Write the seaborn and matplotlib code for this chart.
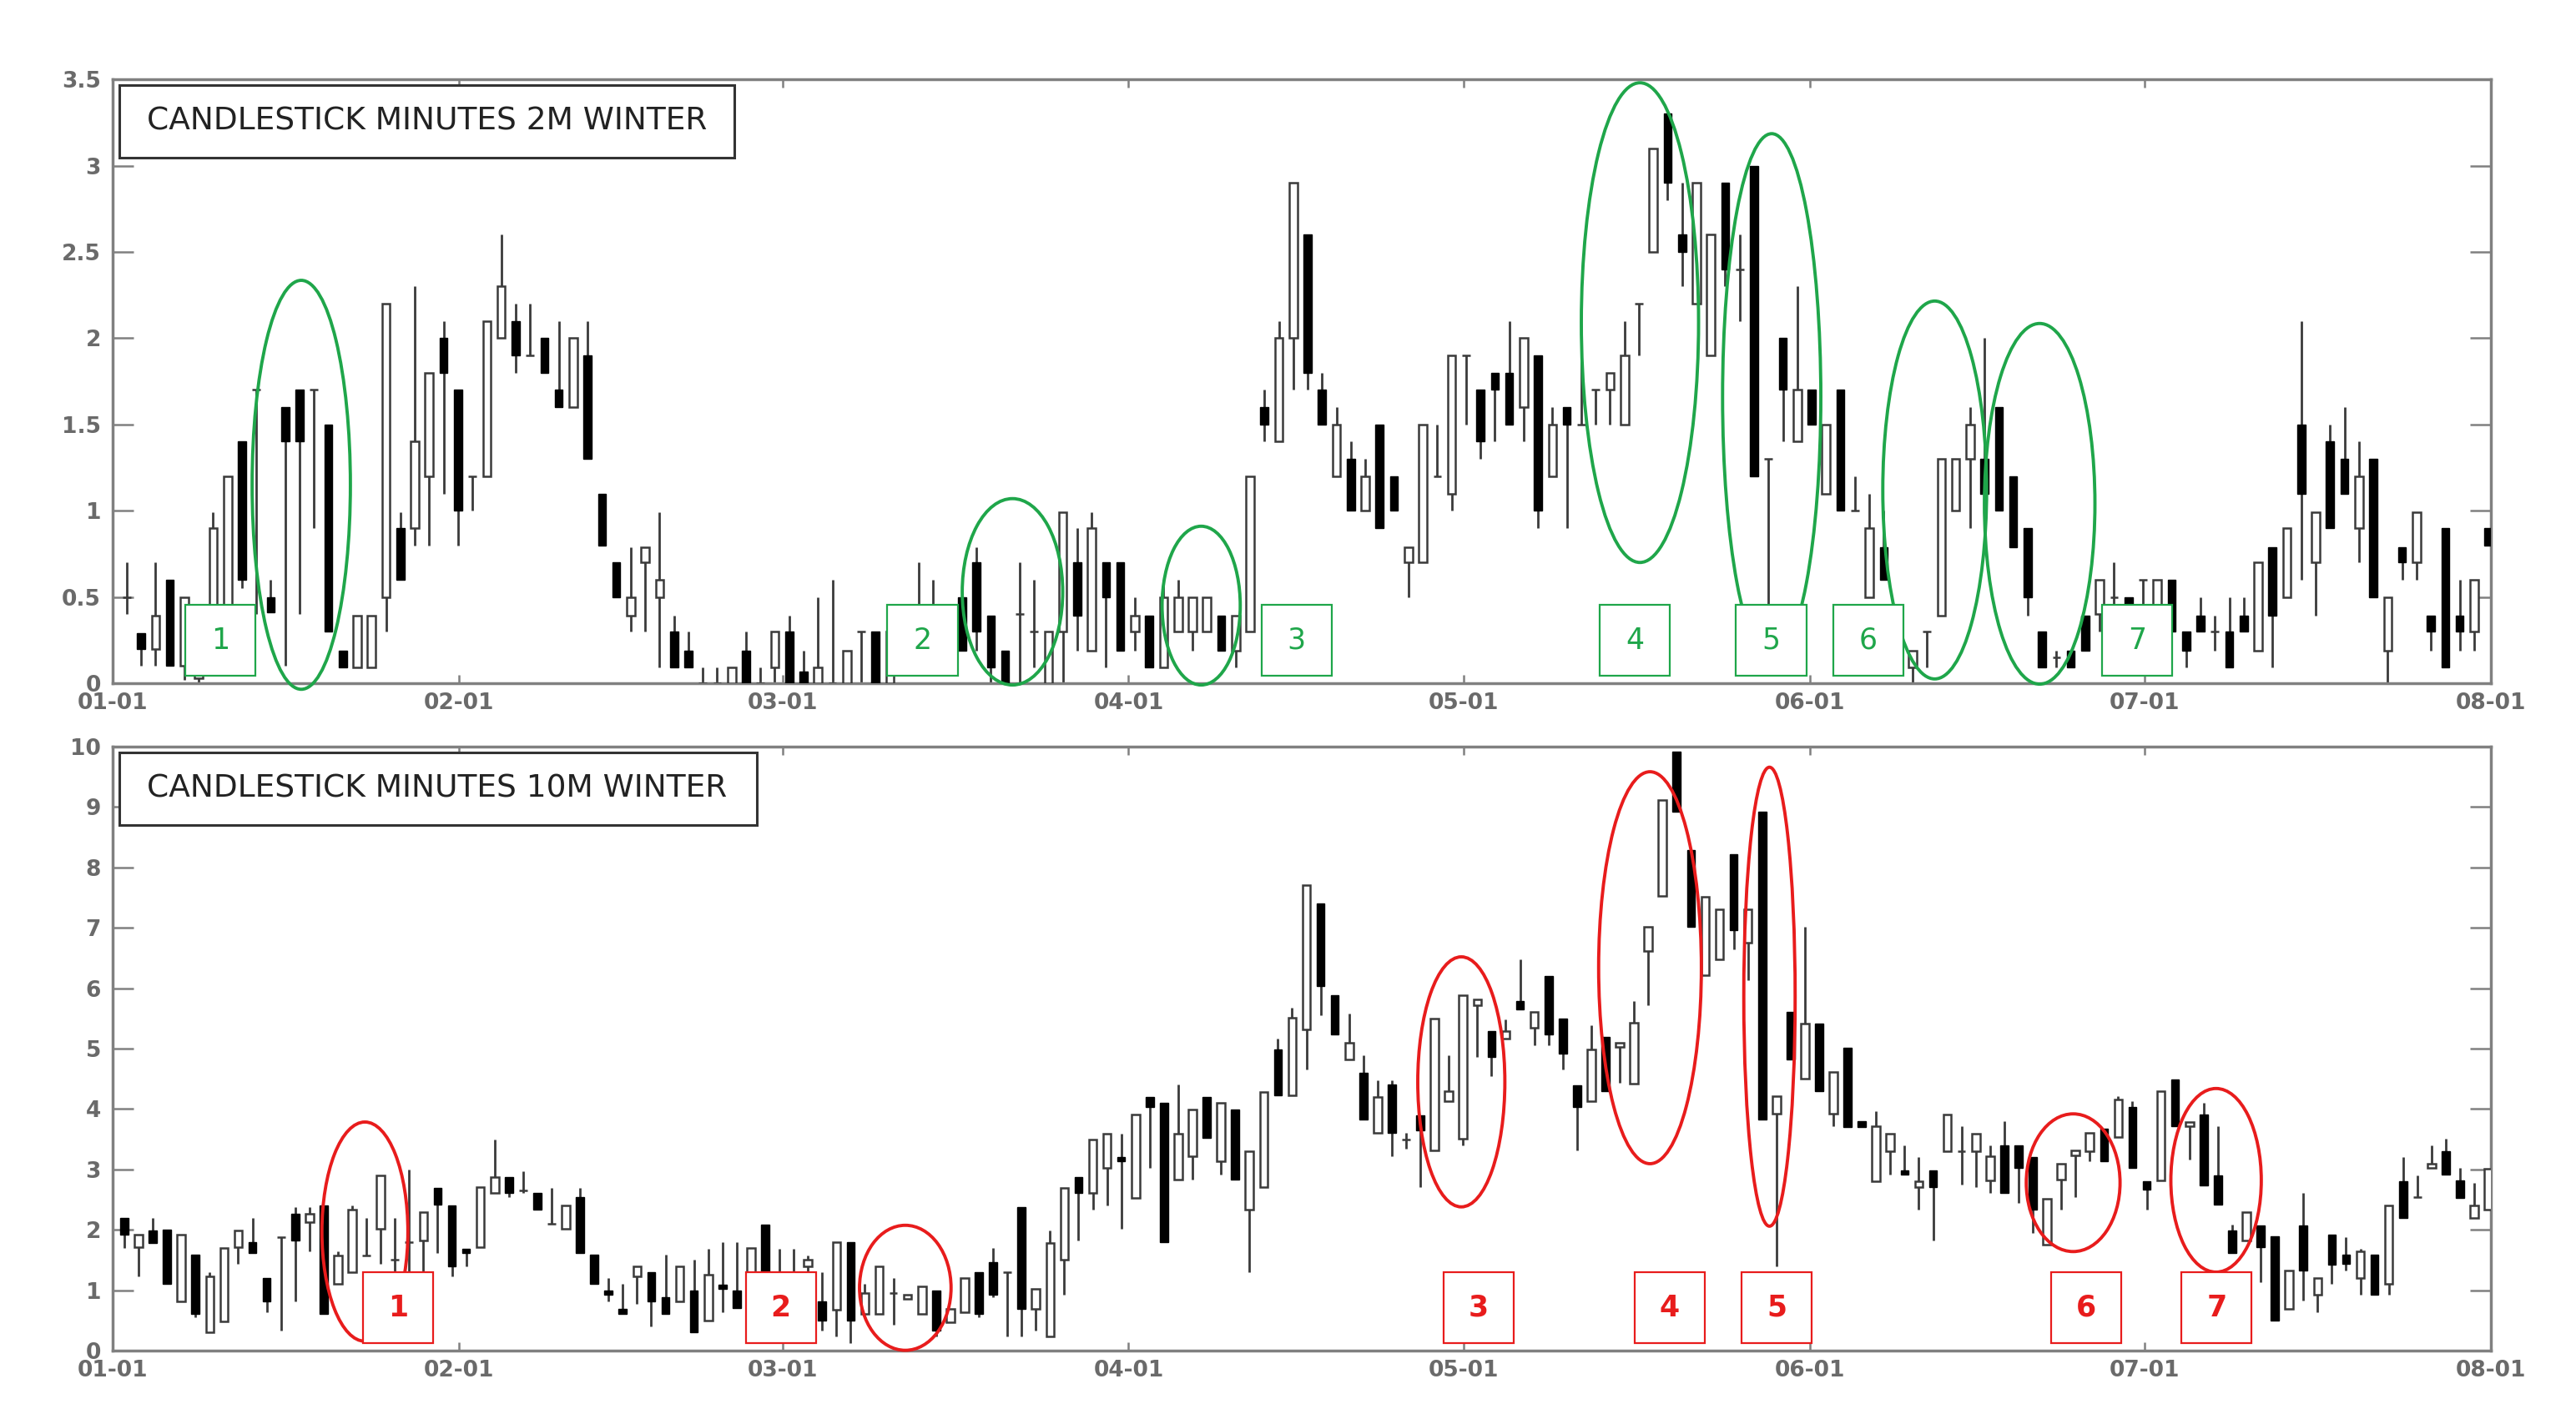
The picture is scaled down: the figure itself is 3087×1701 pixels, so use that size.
import numpy as np
import matplotlib
matplotlib.use('Agg')
import matplotlib.pyplot as plt
import seaborn as sns
from matplotlib.patches import Ellipse, Rectangle
from matplotlib.ticker import FuncFormatter

# --- data ----------------------------------------------------------------
month_ticks = [0, 31, 60, 91, 121, 152, 182, 213]
month_labels = ['01-01', '02-01', '03-01', '04-01', '05-01', '06-01', '07-01', '08-01']

# 2M winter candles (open / high / low / close)
top_open = [0.50, 0.29, 0.20, 0.60, 0.10, 0.03, 0.10, 0.10, 1.40, 1.70, 0.50, 1.60, 1.70, 1.70, 1.50, 0.19, 0.09, 0.09, 0.50, 0.90,
            0.90, 1.20, 2.00, 1.70, 1.20, 1.20, 2.00, 2.10, 1.90, 2.00, 1.70, 1.60, 1.90, 1.10, 0.70, 0.39, 0.70, 0.50, 0.30, 0.19,
            0.00, 0.00, 0.00, 0.19, 0.00, 0.09, 0.30, 0.07, 0.00, 0.00, 0.00, 0.30, 0.30, 0.00, 0.20, 0.30, 0.35, 0.09, 0.50, 0.70,
            0.39, 0.19, 0.40, 0.30, 0.00, 0.30, 0.70, 0.19, 0.70, 0.70, 0.30, 0.39, 0.09, 0.30, 0.30, 0.30, 0.39, 0.19, 0.30, 1.60,
            1.40, 2.00, 2.60, 1.70, 1.20, 1.30, 1.00, 1.50, 1.20, 0.70, 0.70, 1.20, 1.10, 1.90, 1.70, 1.80, 1.80, 1.60, 1.90, 1.20,
            1.60, 1.50, 1.70, 1.70, 1.50, 2.20, 2.50, 3.30, 2.60, 2.20, 1.90, 2.90, 2.40, 3.00, 1.30, 2.00, 1.40, 1.70, 1.10, 1.70,
            1.00, 0.50, 0.79, 0.30, 0.09, 0.30, 0.39, 1.00, 1.30, 1.30, 1.60, 1.20, 0.90, 0.30, 0.15, 0.19, 0.39, 0.40, 0.50, 0.50,
            0.60, 0.45, 0.60, 0.30, 0.39, 0.30, 0.30, 0.39, 0.19, 0.79, 0.50, 1.50, 0.70, 1.40, 1.30, 0.90, 1.30, 0.19, 0.79, 0.70,
            0.39, 0.90, 0.39, 0.30, 0.90]
top_high = [0.70, 0.29, 0.70, 0.60, 0.50, 0.08, 0.99, 1.20, 1.40, 1.70, 0.60, 1.60, 1.70, 1.70, 1.50, 0.19, 0.39, 0.39, 2.20, 0.99,
            2.30, 1.80, 2.10, 1.70, 1.20, 2.10, 2.60, 2.20, 2.20, 2.00, 2.10, 2.00, 2.10, 1.10, 0.70, 0.79, 0.79, 0.99, 0.39, 0.30,
            0.09, 0.09, 0.09, 0.30, 0.09, 0.30, 0.39, 0.19, 0.50, 0.60, 0.19, 0.30, 0.30, 0.30, 0.30, 0.70, 0.60, 0.39, 0.50, 0.79,
            0.39, 0.19, 0.70, 0.60, 0.30, 0.99, 0.90, 0.99, 0.70, 0.70, 0.50, 0.39, 0.60, 0.60, 0.50, 0.50, 0.39, 0.39, 1.20, 1.70,
            2.10, 2.90, 2.60, 1.80, 1.60, 1.40, 1.30, 1.50, 1.20, 0.79, 1.50, 1.50, 1.90, 1.90, 1.70, 1.80, 2.10, 2.00, 1.90, 1.60,
            1.60, 1.90, 1.70, 1.80, 2.10, 2.20, 3.10, 3.30, 2.90, 2.90, 2.60, 2.90, 2.60, 3.00, 1.30, 2.00, 2.30, 1.70, 1.50, 1.70,
            1.20, 1.10, 1.00, 0.39, 0.19, 0.30, 1.30, 1.30, 1.60, 2.00, 1.60, 1.20, 0.90, 0.30, 0.19, 0.19, 0.39, 0.60, 0.70, 0.50,
            0.60, 0.60, 0.60, 0.30, 0.50, 0.39, 0.50, 0.50, 0.70, 0.79, 0.90, 2.10, 0.99, 1.50, 1.60, 1.40, 1.30, 0.50, 0.79, 0.99,
            0.39, 0.90, 0.60, 0.60, 0.90]
top_low = [0.40, 0.10, 0.10, 0.10, 0.02, 0.00, 0.05, 0.05, 0.55, 0.40, 0.41, 0.10, 0.40, 0.90, 0.30, 0.09, 0.09, 0.09, 0.30, 0.60,
           0.80, 0.80, 1.10, 0.80, 1.00, 1.20, 2.00, 1.80, 1.90, 1.80, 1.60, 1.60, 1.30, 0.80, 0.50, 0.30, 0.30, 0.09, 0.09, 0.09,
           0.00, 0.00, 0.00, 0.00, 0.00, 0.00, 0.00, 0.00, 0.00, 0.00, 0.00, 0.00, 0.00, 0.00, 0.10, 0.10, 0.10, 0.09, 0.19, 0.19,
           0.00, 0.00, 0.00, 0.09, 0.00, 0.00, 0.19, 0.19, 0.09, 0.19, 0.19, 0.09, 0.09, 0.30, 0.19, 0.30, 0.19, 0.09, 0.30, 1.40,
           1.40, 1.70, 1.70, 1.50, 1.20, 1.00, 1.00, 0.90, 1.00, 0.50, 0.70, 1.20, 1.00, 1.50, 1.30, 1.40, 1.50, 1.40, 0.90, 1.20,
           0.90, 1.50, 1.50, 1.50, 1.50, 1.90, 2.50, 2.80, 2.30, 2.20, 1.90, 2.30, 2.10, 1.20, 0.40, 1.40, 1.40, 1.50, 1.10, 1.00,
           1.00, 0.50, 0.60, 0.19, 0.00, 0.09, 0.39, 1.00, 0.90, 1.00, 1.00, 0.79, 0.39, 0.09, 0.09, 0.09, 0.19, 0.30, 0.39, 0.45,
           0.40, 0.45, 0.30, 0.09, 0.30, 0.19, 0.09, 0.30, 0.19, 0.09, 0.50, 0.60, 0.39, 0.90, 1.10, 0.70, 0.50, 0.00, 0.60, 0.60,
           0.19, 0.09, 0.19, 0.19, 0.80]
top_close = [0.50, 0.20, 0.39, 0.10, 0.50, 0.06, 0.90, 1.20, 0.60, 1.70, 0.41, 1.40, 1.40, 1.70, 0.30, 0.09, 0.39, 0.39, 2.20, 0.60,
             1.40, 1.80, 1.80, 1.00, 1.20, 2.10, 2.30, 1.90, 1.90, 1.80, 1.60, 2.00, 1.30, 0.80, 0.50, 0.50, 0.79, 0.60, 0.09, 0.09,
             0.00, 0.00, 0.09, 0.00, 0.00, 0.30, 0.00, 0.00, 0.09, 0.00, 0.19, 0.30, 0.00, 0.30, 0.25, 0.35, 0.30, 0.39, 0.19, 0.30,
             0.09, 0.00, 0.40, 0.30, 0.30, 0.99, 0.39, 0.90, 0.50, 0.19, 0.39, 0.09, 0.50, 0.50, 0.50, 0.50, 0.19, 0.39, 1.20, 1.50,
             2.00, 2.90, 1.80, 1.50, 1.50, 1.00, 1.20, 0.90, 1.00, 0.79, 1.50, 1.20, 1.90, 1.90, 1.40, 1.70, 1.50, 2.00, 1.00, 1.50,
             1.50, 1.50, 1.70, 1.80, 1.90, 2.20, 3.10, 2.90, 2.50, 2.90, 2.60, 2.40, 2.40, 1.20, 1.30, 1.70, 1.70, 1.50, 1.50, 1.00,
             1.00, 0.90, 0.60, 0.19, 0.19, 0.30, 1.30, 1.30, 1.50, 1.10, 1.00, 0.79, 0.50, 0.09, 0.15, 0.09, 0.19, 0.60, 0.50, 0.45,
             0.60, 0.60, 0.30, 0.19, 0.30, 0.30, 0.09, 0.30, 0.70, 0.39, 0.90, 1.10, 0.99, 0.90, 1.10, 1.20, 0.50, 0.50, 0.70, 0.99,
             0.30, 0.09, 0.30, 0.60, 0.80]

# 10M winter candles (open / high / low / close)
bot_open = [2.20, 1.71, 1.99, 2.00, 0.81, 1.59, 0.30, 0.48, 1.71, 1.80, 1.20, 1.88, 2.27, 2.13, 2.40, 1.10, 1.30, 1.57, 2.02, 1.50,
            1.80, 1.82, 2.70, 2.40, 1.68, 1.71, 2.61, 2.87, 2.65, 2.61, 2.10, 2.02, 2.54, 1.59, 0.99, 0.69, 1.23, 1.30, 0.88, 0.81,
            0.99, 0.50, 1.09, 0.99, 1.20, 2.09, 1.20, 1.10, 1.40, 0.81, 0.68, 1.80, 0.61, 0.61, 0.95, 0.85, 0.61, 0.99, 0.47, 0.64,
            1.30, 1.47, 1.30, 2.37, 0.69, 0.23, 1.50, 2.87, 2.61, 3.02, 3.20, 2.53, 4.20, 4.10, 2.83, 3.22, 4.20, 3.13, 3.99, 2.33,
            2.71, 4.99, 4.23, 5.32, 7.41, 5.89, 4.82, 4.60, 3.61, 4.40, 3.50, 3.89, 3.31, 4.13, 3.51, 5.72, 5.29, 5.17, 5.79, 5.34,
            6.20, 5.50, 4.39, 4.13, 5.20, 5.03, 4.42, 6.62, 7.53, 9.92, 8.29, 6.22, 6.48, 8.22, 6.75, 8.93, 3.92, 5.61, 4.51, 5.41,
            3.92, 5.01, 3.80, 2.80, 3.30, 2.99, 2.71, 2.99, 3.30, 3.30, 3.30, 2.82, 3.40, 3.40, 3.20, 1.75, 2.83, 3.23, 3.30, 3.68,
            3.54, 4.03, 2.80, 2.82, 4.49, 3.72, 3.91, 2.90, 1.99, 1.82, 2.07, 1.89, 0.69, 2.07, 0.92, 1.92, 1.59, 1.20, 1.59, 1.10,
            2.80, 2.54, 3.02, 3.30, 2.82, 2.20, 2.33]
bot_high = [2.20, 1.92, 2.20, 2.00, 1.92, 1.59, 1.30, 1.70, 1.99, 2.20, 1.20, 1.88, 2.37, 2.37, 2.40, 1.64, 2.40, 2.20, 2.90, 2.20,
            3.00, 2.30, 2.70, 2.40, 1.68, 2.71, 3.50, 2.87, 2.97, 2.61, 2.70, 2.40, 2.70, 1.59, 1.20, 1.10, 1.40, 1.30, 1.59, 1.40,
            1.50, 1.68, 1.80, 1.80, 1.70, 2.09, 1.68, 1.68, 1.57, 1.30, 1.80, 1.80, 1.10, 1.40, 1.20, 0.92, 1.06, 0.99, 0.69, 1.20,
            1.30, 1.70, 1.30, 2.37, 1.02, 1.99, 2.70, 2.87, 3.50, 3.59, 3.59, 3.91, 4.20, 4.10, 4.40, 3.99, 4.20, 4.10, 3.99, 3.30,
            4.28, 5.17, 5.68, 7.71, 7.41, 5.89, 5.58, 4.89, 4.48, 4.48, 3.61, 3.89, 5.50, 4.89, 5.89, 5.82, 5.29, 5.48, 6.48, 5.61,
            6.20, 5.50, 4.39, 5.39, 5.20, 5.10, 5.79, 7.02, 9.12, 9.92, 8.29, 7.51, 7.31, 8.22, 7.31, 8.93, 4.21, 5.61, 7.02, 5.41,
            4.61, 5.01, 3.80, 3.96, 3.59, 3.40, 3.20, 2.99, 3.91, 3.72, 3.59, 3.40, 3.80, 3.40, 3.20, 2.51, 3.09, 3.31, 3.61, 3.68,
            4.21, 4.13, 2.80, 4.30, 4.49, 3.78, 4.10, 3.72, 2.09, 2.30, 2.07, 1.89, 1.33, 2.61, 1.20, 1.92, 1.88, 1.68, 1.59, 2.40,
            3.20, 2.90, 3.40, 3.51, 3.02, 2.78, 3.01]
bot_low = [1.70, 1.23, 1.78, 1.10, 0.81, 0.55, 0.30, 0.48, 1.44, 1.61, 0.64, 0.33, 0.81, 1.64, 0.61, 1.10, 1.30, 1.57, 1.44, 1.20,
           1.30, 1.30, 1.61, 1.23, 1.40, 1.71, 2.61, 2.54, 2.61, 2.33, 2.10, 2.02, 1.61, 1.10, 0.81, 0.61, 0.78, 0.40, 0.61, 0.81,
           0.30, 0.50, 0.64, 0.71, 1.00, 0.90, 0.90, 0.80, 0.90, 0.33, 0.23, 0.12, 0.61, 0.61, 0.43, 0.85, 0.61, 0.23, 0.47, 0.64,
           0.55, 0.88, 0.23, 0.23, 0.33, 0.23, 0.92, 1.82, 2.33, 2.40, 2.02, 2.53, 3.02, 1.80, 2.83, 2.83, 3.52, 2.92, 2.83, 1.30,
           2.71, 4.23, 4.23, 4.65, 5.55, 5.23, 4.82, 3.82, 3.61, 3.22, 3.34, 2.71, 3.31, 4.13, 3.40, 4.86, 4.54, 5.17, 5.65, 5.06,
           5.06, 4.65, 3.31, 4.13, 4.30, 4.44, 4.42, 5.72, 7.53, 8.93, 7.02, 6.22, 6.48, 6.65, 6.13, 3.82, 1.40, 4.82, 4.51, 4.30,
           3.72, 3.70, 3.70, 2.80, 2.92, 2.92, 2.33, 1.82, 3.30, 2.75, 2.71, 2.61, 2.61, 2.44, 1.95, 1.75, 2.33, 2.54, 3.13, 3.13,
           3.54, 3.02, 2.33, 2.82, 3.72, 3.16, 2.73, 2.42, 1.61, 1.82, 1.13, 0.50, 0.69, 0.83, 0.64, 1.10, 1.33, 0.92, 0.92, 0.92,
           2.20, 2.54, 3.02, 2.92, 2.53, 2.20, 2.33]
bot_close = [1.92, 1.92, 1.78, 1.10, 1.92, 0.61, 1.23, 1.70, 1.99, 1.61, 0.81, 1.88, 1.82, 2.27, 0.61, 1.57, 2.33, 1.57, 2.90, 1.50,
             1.80, 2.30, 2.42, 1.40, 1.61, 2.71, 2.87, 2.61, 2.65, 2.33, 2.10, 2.40, 1.61, 1.10, 0.92, 0.61, 1.40, 0.81, 0.61, 1.40,
             0.30, 1.26, 1.02, 0.71, 1.70, 0.90, 1.20, 1.10, 1.50, 0.50, 1.80, 0.50, 0.95, 1.40, 0.95, 0.92, 1.06, 0.33, 0.69, 1.20,
             0.61, 0.92, 1.30, 0.69, 1.02, 1.78, 2.70, 2.61, 3.50, 3.59, 3.13, 3.91, 4.03, 1.80, 3.59, 3.99, 3.52, 4.10, 2.83, 3.30,
             4.28, 4.23, 5.51, 7.71, 6.03, 5.23, 5.10, 3.82, 4.20, 3.61, 3.50, 3.65, 5.50, 4.30, 5.89, 5.82, 4.86, 5.29, 5.65, 5.61,
             5.23, 4.92, 4.03, 4.99, 4.30, 5.10, 5.43, 7.02, 9.12, 8.93, 7.02, 7.51, 7.31, 6.96, 7.31, 3.82, 4.21, 4.82, 5.41, 4.30,
             4.61, 3.70, 3.70, 3.72, 3.59, 2.92, 2.80, 2.71, 3.91, 3.30, 3.59, 3.22, 2.61, 3.02, 2.33, 2.51, 3.09, 3.31, 3.61, 3.13,
             4.16, 3.02, 2.66, 4.30, 3.72, 3.78, 2.73, 2.42, 1.61, 2.30, 1.71, 0.50, 1.33, 1.33, 1.20, 1.42, 1.44, 1.64, 0.92, 2.40,
             2.20, 2.54, 3.09, 2.92, 2.53, 2.40, 3.01]

# highlighted episodes: (centre day, centre value, width in days, height)
top_marks = [(16.9, 1.15, 8.8, 2.37), (80.6, 0.53, 9.0, 1.08), (97.5, 0.45, 7.0, 0.92),
             (136.8, 2.09, 10.5, 2.78), (148.6, 1.66, 8.8, 3.05), (163.2, 1.12, 9.3, 2.19),
             (172.6, 1.04, 9.9, 2.09)]
top_boxes = [6.5, 69.4, 102.9, 133.2, 145.4, 154.1, 178.2]
bot_marks = [(22.6, 1.97, 7.7, 3.63), (71.0, 1.04, 8.2, 2.07), (120.8, 4.45, 7.8, 4.14),
             (137.7, 6.34, 9.2, 6.49), (148.4, 5.86, 4.6, 7.6), (175.6, 2.78, 8.4, 2.28),
             (188.4, 2.82, 8.1, 3.04)]
bot_boxes = [22.4, 56.7, 119.2, 136.3, 145.9, 173.6, 185.3]

GREEN = '#1fa64a'
RED = '#e81c1c'
FRAME = '#808080'

sns.set_theme(style='white')
plt.rcParams['font.family'] = ['DejaVu Sans']


def draw_candles(ax, first_day, o, h, l, c):
    o, h, l, c = map(np.asarray, (o, h, l, c))
    x = np.linspace(first_day, 212.8, len(o))
    down = c < o
    ax.vlines(x, l, h, color='#3a3a3a', lw=2.0, zorder=2)
    base = np.minimum(o, c)
    size = np.abs(c - o)
    ax.bar(x[~down], size[~down], bottom=base[~down], width=0.72,
           color='white', edgecolor='#3a3a3a', linewidth=1.8, zorder=3)
    ax.bar(x[down], size[down], bottom=base[down], width=0.72,
           color='black', edgecolor='black', linewidth=1.0, zorder=3)


def style_axes(ax, ymax, ystep, title, title_w):
    ax.set_xlim(0, 213)
    ax.set_ylim(0, ymax)
    ax.set_xticks(month_ticks)
    ax.set_xticklabels(month_labels)
    ax.set_yticks(np.arange(0, ymax + 0.001, ystep))
    ax.yaxis.set_major_formatter(FuncFormatter(lambda v, p: '%g' % v))
    for sp in ax.spines.values():
        sp.set_color(FRAME)
        sp.set_linewidth(2.5)
    ax.tick_params(axis='y', direction='in', length=18, width=1.8, color=FRAME,
                   left=True, right=True, pad=10, labelsize=19, labelcolor='#6a6a6a')
    ax.tick_params(axis='x', direction='in', length=7, width=1.8, color=FRAME,
                   bottom=True, top=True, pad=8, labelsize=19, labelcolor='#6a6a6a')
    for lab in ax.get_xticklabels() + ax.get_yticklabels():
        lab.set_fontweight('bold')
    ax.grid(False)
    ax.add_patch(Rectangle((0.003, 0.870), title_w, 0.120, transform=ax.transAxes,
                           facecolor='white', edgecolor='#333333', lw=2.2, zorder=6))
    ax.text(0.0145, 0.930, title, transform=ax.transAxes, fontsize=27,
            color='#222222', va='center', ha='left', zorder=7)


def add_marks(ax, marks, boxes, ybox, hbox, color, bold):
    for cx, cy, w, hgt in marks:
        ax.add_patch(Ellipse((cx, cy), w, hgt, fill=False, edgecolor=color,
                             lw=2.8, zorder=4, clip_on=False))
    for k, bx in enumerate(boxes):
        ax.add_patch(Rectangle((bx, ybox), 6.3, hbox, facecolor='white',
                               edgecolor=color, lw=1.6, zorder=5))
        ax.text(bx + 3.15, ybox + hbox / 2, str(k + 1), color=color, fontsize=25,
                ha='center', va='center', zorder=6,
                fontweight='bold' if bold else 'normal')


fig = plt.figure(figsize=(30.87, 17.01), dpi=100)
ax1 = fig.add_axes([0.0437, 0.5185, 0.9232, 0.4256])
ax2 = fig.add_axes([0.0437, 0.0482, 0.9232, 0.4256])

draw_candles(ax1, 1.27, top_open, top_high, top_low, top_close)
style_axes(ax1, 3.5, 0.5, 'CANDLESTICK MINUTES 2M WINTER', 0.2585)
add_marks(ax1, top_marks, top_boxes, 0.043, 0.41, GREEN, False)

draw_candles(ax2, 1.05, bot_open, bot_high, bot_low, bot_close)
style_axes(ax2, 10, 1, 'CANDLESTICK MINUTES 10M WINTER', 0.268)
add_marks(ax2, bot_marks, bot_boxes, 0.12, 1.18, RED, True)

fig.savefig('out.png', dpi=100, facecolor='white')
